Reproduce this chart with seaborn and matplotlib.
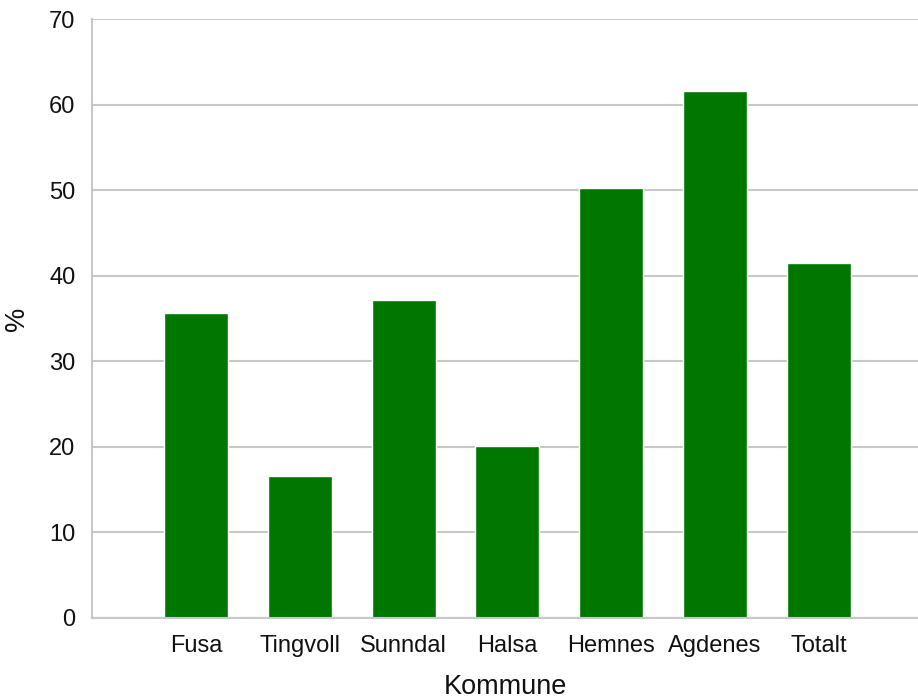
import matplotlib
matplotlib.use("Agg")
import matplotlib.pyplot as plt
import seaborn as sns
import pandas as pd

kommuner = ["Fusa", "Tingvoll", "Sunndal", "Halsa", "Hemnes", "Agdenes", "Totalt"]
andel = [35.7, 16.6, 37.2, 20.1, 50.2, 61.6, 41.5]
y_ticks = [0, 10, 20, 30, 40, 50, 60, 70]

df = pd.DataFrame({"Kommune": kommuner, "Andel": andel})

sns.set_theme(style="white")
plt.rcParams["font.family"] = ["Liberation Sans", "DejaVu Sans"]

fig = plt.figure(figsize=(9.18, 7.0), dpi=100)
ax = fig.add_axes([92 / 918, 1 - 618 / 700, 1 - 92 / 918, (618 - 19) / 700])

sns.barplot(data=df, x="Kommune", y="Andel", order=kommuner, color="#007800",
            saturation=1, width=0.617, ax=ax)

ax.set_ylim(0, 70)
ax.set_xlim(-1, 6.954)
ax.set_yticks(y_ticks)
ax.set_yticklabels([str(t) for t in y_ticks])
ax.yaxis.grid(True, color="#c8c8c8", linewidth=1.5)
ax.set_axisbelow(True)

for side in ["top", "right"]:
    ax.spines[side].set_visible(False)
for side in ["left", "bottom"]:
    ax.spines[side].set_color("#c8c8c8")
    ax.spines[side].set_linewidth(1.5)

ax.tick_params(axis="both", length=0, labelsize=17, colors="#111111")
ax.tick_params(axis="y", pad=12)
ax.tick_params(axis="x", pad=12)

ax.set_xlabel("Kommune", fontsize=19.5, color="#111111", labelpad=12.5)
ax.set_ylabel("%", fontsize=19.5, color="#111111", labelpad=14)

fig.savefig("out.png", dpi=100)
